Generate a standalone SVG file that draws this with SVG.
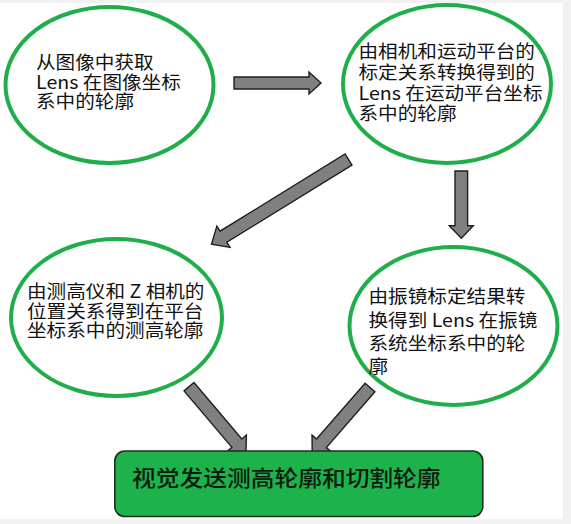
<svg xmlns="http://www.w3.org/2000/svg" width="571" height="524" viewBox="0 0 571 524">
<style>
.node ellipse{fill:#ffffff;stroke:#1fae4a;stroke-width:4}
.t{font-family:"Noto Sans CJK SC","Noto Sans",sans-serif;font-size:18px;fill:#111111}
.arrow{fill:#808080;stroke:#1e1e1e;stroke-width:1.4;stroke-linejoin:miter}
.box{fill:#1db24c;stroke:#1f2f1f;stroke-width:1.6}
.bt{font-family:"Noto Sans CJK SC","Noto Sans",sans-serif;font-size:22px;font-weight:500;fill:#0c1a0c}
</style>
<rect x="0" y="0" width="571" height="524" fill="#f2f2f2"/>
<rect x="0" y="3" width="563" height="516" fill="#ffffff"/>

<g id="connectors">
<polygon class="arrow" points="234,77 309,77 309,72 321,83 309,94 309,89 234,89"/>
<polygon class="arrow" points="455,171 467.6,171 467.6,225.7 473.3,225.7 461.3,238.3 449.3,225.7 455,225.7"/>
<polygon class="arrow" transform="translate(348.5,159.5) rotate(148.3)" points="0,-6.5 147,-6.5 147,-12.5 161,0 147,12.5 147,6.5 0,6.5"/>
<polygon class="arrow" transform="translate(189,386.7) rotate(49.7)" points="0,-6.5 74,-6.5 74,-12.5 88,0 74,12.5 74,6.5 0,6.5"/>
<polygon class="arrow" transform="translate(370,387.5) rotate(131)" points="0,-6.5 74,-6.5 74,-12.5 88,0 74,12.5 74,6.5 0,6.5"/>
</g>

<g id="node1" class="node">
<ellipse cx="109.5" cy="85" rx="104" ry="78"/>
<text class="t" transform="translate(36,0) scale(1.09,1)"><tspan x="0" y="69.5">从图像中获取</tspan><tspan x="0" y="89">Lens 在图像坐标</tspan><tspan x="0" y="108.5">系中的轮廓</tspan></text>
</g>

<g id="node2" class="node">
<ellipse cx="447" cy="84" rx="104" ry="79"/>
<text class="t" transform="translate(358.5,0) scale(1.09,1)"><tspan x="0" y="58">由相机和运动平台的</tspan><tspan x="0" y="78.8">标定关系转换得到的</tspan><tspan x="0" y="99.6">Lens 在运动平台坐标</tspan><tspan x="0" y="120.4">系中的轮廓</tspan></text>
</g>

<g id="node3" class="node">
<ellipse cx="116.5" cy="317.5" rx="105.5" ry="78.5"/>
<text class="t" transform="translate(27,0) scale(1.09,1)"><tspan x="0" y="298.5">由测高仪和 Z 相机的</tspan><tspan x="0" y="317.8">位置关系得到在平台</tspan><tspan x="0" y="337">坐标系中的测高轮廓</tspan></text>
</g>

<g id="node4" class="node">
<ellipse cx="453.5" cy="326" rx="104" ry="79"/>
<text class="t" transform="translate(368.5,0) scale(1.09,1)"><tspan x="0" y="303.5">由振镜标定结果转</tspan><tspan x="0" y="327">换得到 Lens 在振镜</tspan><tspan x="0" y="350.5">系统坐标系中的轮</tspan><tspan x="0" y="373.5">廓</tspan></text>
</g>

<g id="node5">
<rect class="box" x="114.8" y="451" width="368" height="65.5" rx="10"/>
<text class="bt" transform="translate(132,0) scale(1.08,1)" x="0" y="486.5">视觉发送测高轮廓和切割轮廓</text>
</g>
</svg>
